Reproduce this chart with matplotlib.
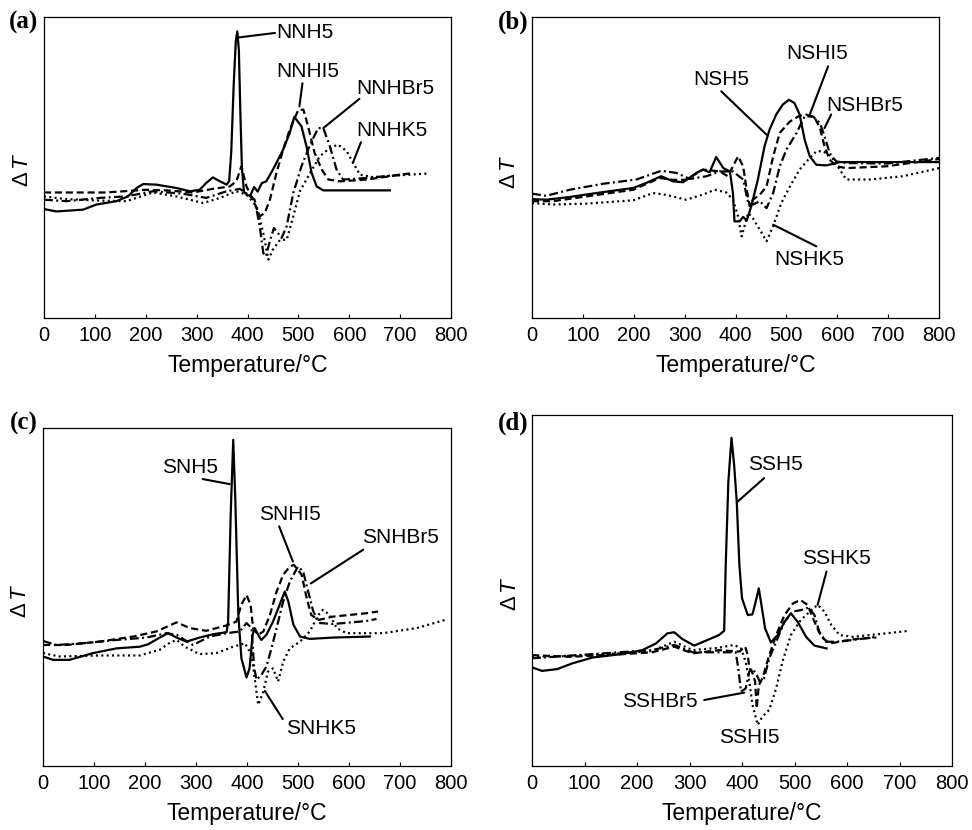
import matplotlib
matplotlib.use('Agg')
import matplotlib.pyplot as plt

plt.rcParams['font.family'] = ['Liberation Sans', 'DejaVu Sans']
plt.rcParams['mathtext.fontset'] = 'custom'
plt.rcParams['mathtext.rm'] = 'Liberation Sans'
plt.rcParams['mathtext.it'] = 'Liberation Sans:italic'

# ---------------- data (temperature in degC, DeltaT in arbitrary units 0-100) ----------------
xticks = [0, 100, 200, 300, 400, 500, 600, 700, 800]

# Panel (a)
nnh5_x = [0, 24, 77, 103, 142, 165, 182, 195, 221, 260, 287, 306, 319, 332, 346, 359, 364, 368, 373, 377, 380, 383, 386, 389, 393,
          398, 405, 413, 420, 428, 437, 450, 470, 483, 492, 506, 516, 526, 536, 549, 600, 680]
nnh5_y = [36.2, 35.4, 36.0, 37.7, 38.8, 40.4, 43.2, 44.5, 44.3, 43.2, 42.1, 42.6, 44.9, 46.7, 45.4, 44.3, 45.5, 55, 78, 92, 95.2, 89, 68, 50, 42,
          41.0, 40.5, 43.5, 42.0, 44.8, 45.4, 49.3, 55.9, 61.5, 66.8, 63.7, 57.0, 48.2, 43.7, 42.4, 42.4, 42.4]
nnhi5_x = [0, 120, 201, 241, 293, 332, 365, 378, 388, 398, 411, 424, 434, 444, 457, 470, 483, 500, 510, 519, 532, 546, 559, 582, 634, 726]
nnhi5_y = [41.7, 41.7, 42.6, 42.4, 41.7, 42.9, 43.7, 45.4, 50.4, 43.7, 39.3, 33.8, 34.9, 39.3, 48.2, 55.9, 62.6, 69.2, 69.2, 63.7, 54.8, 49.3, 46.0, 45.4, 46.0, 48.2]
nnhbr5_x = [0, 44, 110, 162, 214, 273, 319, 359, 385, 401, 414, 424, 431, 436, 443, 452, 460, 467, 477, 490, 506, 523, 539, 549, 562, 575, 588, 634, 700]
nnhbr5_y = [39.3, 38.8, 39.9, 40.4, 42.1, 41.3, 39.9, 42.1, 42.9, 41.0, 39.3, 30.5, 21.6, 20.5, 24.9, 29.9, 28.2, 26.6, 30.5, 41.5, 50.4, 57.6, 63.1, 63.1, 57.0, 49.3, 46.0, 46.5, 47.6]
nnhk5_x = [0, 44, 110, 162, 214, 260, 313, 346, 378, 398, 418, 431, 441, 450, 464, 477, 490, 503, 523, 542, 562, 578, 595, 608, 621, 647, 700, 754]
nnhk5_y = [40.4, 39.5, 39.0, 38.8, 41.7, 40.4, 38.2, 39.9, 42.1, 41.0, 37.1, 28.2, 19.4, 22.7, 26.0, 26.0, 33.8, 42.1, 48.2, 53.7, 56.5, 57.6, 55.4, 51.5, 47.6, 46.8, 47.4, 48.0]

# Panel (b)
nsh5_x = [0, 28, 74, 126, 199, 225, 254, 277, 297, 323, 336, 349, 362, 376, 389, 395, 398, 408, 415, 422, 431, 444, 457, 467, 480, 493, 505,
          516, 526, 536, 546, 559, 579, 605, 697, 800]
nsh5_y = [39.5, 39.3, 40.2, 41.5, 43.2, 44.9, 47.1, 45.4, 45.1, 48.2, 49.3, 48.4, 53.5, 49.8, 48.7, 41.5, 32.1, 32.1, 33.6, 32.4, 37.1, 46.0,
          57.0, 62.6, 67.6, 70.9, 72.5, 71.4, 67.6, 59.2, 53.7, 50.9, 50.7, 51.8, 51.8, 51.8]
nshi5_x = [0, 41, 107, 199, 251, 277, 303, 336, 369, 385, 395, 405, 415, 421, 428, 434, 448, 461, 474, 487, 507, 526, 539, 556, 566, 575,
           585, 598, 618, 697, 800]
nshi5_y = [38.8, 38.8, 40.4, 42.6, 46.5, 45.9, 45.9, 49.3, 48.7, 47.1, 50.4, 53.7, 50.4, 43.7, 37.1, 39.3, 41.0, 43.7, 53.7, 61.5, 65.3, 67.2,
           67.6, 66.4, 63.1, 57.0, 52.6, 50.4, 49.8, 50.4, 52.8]
nshbr5_x = [0, 28, 74, 140, 205, 254, 284, 310, 343, 369, 395, 415, 425, 434, 448, 461, 474, 487, 500, 520, 536, 552, 566, 575, 585, 598,
            618, 697, 800]
nshbr5_y = [41.3, 40.6, 42.6, 44.6, 46.0, 48.9, 48.2, 46.2, 47.1, 48.7, 48.7, 46.0, 38.2, 37.7, 38.8, 36.5, 41.5, 50.4, 55.9, 61.5, 67.0,
            67.0, 64.8, 60.4, 54.8, 52.0, 51.5, 51.3, 53.2]
nshk5_x = [0, 41, 107, 199, 238, 264, 303, 336, 359, 382, 395, 405, 412, 425, 434, 448, 461, 474, 490, 507, 526, 543, 559, 572, 588, 605,
           618, 664, 729, 800]
nshk5_y = [38.2, 37.7, 38.0, 39.1, 41.5, 40.9, 39.3, 41.0, 42.6, 41.7, 39.3, 33.8, 27.1, 34.9, 33.2, 29.3, 25.5, 30.5, 38.2, 43.7, 49.3,
           52.6, 55.4, 55.4, 53.7, 49.3, 46.0, 46.0, 47.1, 49.8]

# Panel (c)
snh5_x = [0, 20, 52, 98, 144, 190, 206, 229, 245, 262, 281, 307, 334, 360, 363, 368, 373, 377, 383, 389, 399, 405, 411, 415, 422, 428,
          438, 451, 464, 474, 481, 491, 504, 523, 569, 641]
snh5_y = [32.4, 31.4, 31.4, 33.4, 34.8, 35.3, 36.0, 38.0, 39.3, 38.0, 36.8, 38.0, 39.0, 39.6, 42.7, 74.3, 96.5, 79.3, 44.7, 31.9, 26.2, 28.9,
          38.8, 40.8, 38.8, 37.3, 38.8, 42.7, 47.7, 51.6, 48.7, 41.8, 38.3, 37.6, 38.0, 38.3]
snhi5_x = [0, 46, 111, 177, 222, 262, 288, 320, 360, 379, 389, 399, 407, 412, 422, 432, 445, 458, 471, 484, 492, 507, 517, 526, 540, 569,
           634, 657]
snhi5_y = [35.8, 35.8, 36.8, 38.3, 39.8, 42.5, 40.8, 40.0, 41.6, 42.7, 47.7, 50.6, 47.7, 40.8, 38.8, 39.8, 44.7, 51.6, 56.6, 59.0, 59.5, 56.6,
           49.7, 44.7, 43.2, 44.2, 45.2, 45.7]
snhbr5_x = [0, 26, 78, 144, 203, 242, 262, 294, 327, 360, 386, 399, 409, 414, 419, 428, 438, 448, 458, 471, 484, 500, 510, 520, 530, 543,
            569, 634, 654]
snhbr5_y = [37.0, 35.8, 36.3, 37.3, 38.0, 39.3, 38.8, 35.8, 38.3, 39.3, 39.8, 42.3, 40.8, 28.9, 25.5, 26.9, 29.4, 34.8, 40.8, 48.7, 54.6,
            59.0, 57.6, 51.6, 45.7, 42.3, 42.0, 42.9, 43.5]
snhk5_x = [0, 33, 111, 190, 229, 249, 262, 278, 307, 340, 373, 396, 409, 415, 422, 432, 441, 451, 461, 471, 484, 504, 523, 540, 549, 562,
           576, 595, 667, 733, 788]
snhk5_y = [33.4, 32.4, 32.7, 32.7, 34.4, 36.5, 37.3, 35.3, 33.1, 33.4, 35.3, 36.3, 32.9, 26.0, 18.1, 22.0, 27.9, 28.9, 25.0, 30.9, 34.8,
           36.8, 39.8, 44.7, 46.2, 44.7, 40.8, 39.3, 39.3, 40.8, 43.2]

# Panel (d)
ssh5_x = [0, 19, 48, 76, 115, 166, 210, 236, 258, 271, 286, 309, 331, 356, 366, 369, 374, 380, 385, 390, 395, 400, 411, 420, 426, 432,
          437, 444, 455, 468, 481, 493, 506, 522, 538, 561]
ssh5_y = [28.1, 27.1, 27.6, 29.2, 30.9, 31.8, 33.0, 34.9, 37.8, 38.1, 36.2, 34.3, 35.7, 37.3, 38.5, 57.3, 81.0, 93.5, 85.8, 75.3, 57.3,
          47.8, 43.0, 43.2, 46.8, 50.6, 45.9, 39.2, 35.2, 37.3, 41.1, 43.5, 41.1, 36.8, 34.3, 33.5]
sshi5_x = [0, 70, 166, 229, 271, 306, 356, 395, 406, 411, 414, 419, 425, 428, 432, 439, 452, 465, 481, 497, 511, 525, 538, 551, 567, 586,
           617, 656]
sshi5_y = [31.6, 31.1, 31.8, 32.4, 34.0, 32.1, 33.0, 32.6, 34.0, 31.6, 27.8, 26.9, 24.0, 16.4, 23.0, 25.0, 31.6, 37.3, 43.0, 46.3, 47.3,
           45.9, 41.1, 36.8, 34.9, 35.4, 36.2, 36.6]
sshbr5_x = [0, 70, 166, 229, 271, 306, 356, 388, 393, 398, 407, 414, 420, 428, 434, 442, 452, 465, 481, 497, 512, 527, 538, 547, 560, 579,
            611, 656]
sshbr5_y = [30.7, 31.4, 32.4, 33.0, 34.5, 32.4, 32.4, 32.4, 27.8, 21.2, 22.1, 26.9, 27.8, 25.9, 24.0, 25.0, 30.7, 35.4, 41.1, 44.0, 44.4,
            45.1, 43.0, 38.3, 35.4, 35.4, 35.9, 36.8]
sshk5_x = [0, 70, 166, 229, 271, 306, 356, 385, 398, 407, 414, 420, 430, 439, 452, 465, 477, 493, 512, 532, 544, 557, 570, 586, 611, 675, 718]
sshk5_y = [31.1, 31.4, 32.1, 32.8, 35.4, 33.0, 33.7, 34.5, 33.5, 29.7, 24.0, 17.4, 11.7, 14.1, 16.0, 22.1, 29.7, 37.3, 41.6, 44.4, 45.9,
           44.0, 40.2, 37.3, 36.8, 37.8, 38.5]

# ---------------- layout helpers ----------------
W, H = 972, 830
fig = plt.figure(figsize=(W / 100, H / 100), dpi=100)


def box(l, t, r, b):
    return [l / W, 1 - b / H, (r - l) / W, (b - t) / H]


def fx(px):
    return px / W


def fy(py):
    return 1 - py / H


S_SOLID = '-'
S_DASH = (0, (3.2, 1.7))
S_DASHDOT = (0, (4.0, 1.5, 0.9, 1.5))
S_DOT = (0, (0.9, 1.5))
LW = 1.6


def make_panel(rect, series, labels, letter, letter_xy, ylab_xy):
    ax = fig.add_axes(rect)
    for x, y, ls in series:
        ax.plot(x, y, color='black', lw=LW, linestyle=ls, dash_capstyle='butt', solid_joinstyle='round')
    ax.set_xlim(0, 800)
    ax.set_ylim(0, 100)
    ax.set_xticks(xticks)
    ax.set_xticklabels([str(v) for v in xticks])
    ax.set_yticks([])
    ax.tick_params(axis='x', direction='in', length=3, width=0.8, labelsize=14.5, pad=6, top=False)
    for s in ax.spines.values():
        s.set_linewidth(0.9)
    ax.set_xlabel('Temperature/°C', fontsize=16.5, labelpad=6)
    for txt, tx, ty, line in labels:
        ax.text(tx, ty, txt, fontsize=15, ha='left', va='center')
        if line is not None:
            (x0, y0), (x1, y1) = line
            ax.annotate('', xy=(x1, y1), xytext=(x0, y0),
                        arrowprops=dict(arrowstyle='-', lw=1.5, color='black', shrinkA=0, shrinkB=0))
    fig.text(fx(letter_xy[0]), fy(letter_xy[1]), letter, fontsize=18, fontweight='bold',
             family='Liberation Serif', ha='center', va='center')
    fig.text(fx(ylab_xy[0]), fy(ylab_xy[1]), r'$\Delta\,\mathit{T}$', fontsize=16, rotation=90,
             ha='center', va='center')
    return ax


make_panel(box(44, 17, 451, 318),
           [(nnh5_x, nnh5_y, S_SOLID), (nnhi5_x, nnhi5_y, S_DASH),
            (nnhbr5_x, nnhbr5_y, S_DASHDOT), (nnhk5_x, nnhk5_y, S_DOT)],
           [('NNH5', 457, 94.7, ((454, 94.7), (382, 93.2))),
            ('NNHI5', 457, 82.0, ((508, 78.0), (502, 70.3))),
            ('NNHBr5', 614, 76.4, ((620, 72.8), (549, 63.1))),
            ('NNHK5', 614, 62.2, ((623, 58.4), (607, 51.5)))],
           '(a)', (24, 22), (22, 170))

make_panel(box(532, 17, 939, 318),
           [(nsh5_x, nsh5_y, S_SOLID), (nshi5_x, nshi5_y, S_DASH),
            (nshbr5_x, nshbr5_y, S_DASHDOT), (nshk5_x, nshk5_y, S_DOT)],
           [('NSH5', 316, 79.2, ((372, 75.3), (461, 60.9))),
            ('NSHI5', 500, 88.0, ((582, 83.6), (546, 67.6))),
            ('NSHBr5', 579, 70.5, ((588, 67.6), (575, 63.1))),
            ('NSHK5', 477, 19.4, ((559, 23.8), (474, 31.0)))],
           '(b)', (513, 22), (509, 172))

make_panel(box(43, 428, 451, 766),
           [(snh5_x, snh5_y, S_SOLID), (snhi5_x, snhi5_y, S_DASH),
            (snhbr5_x, snhbr5_y, S_DASHDOT), (snhk5_x, snhk5_y, S_DOT)],
           [('SNH5', 234, 88.4, ((313, 84.9), (366, 83.4))),
            ('SNHI5', 424, 74.5, ((463, 70.9), (490, 60.5))),
            ('SNHBr5', 625, 67.6, ((628, 64.0), (525, 54.0))),
            ('SNHK5', 477, 11.2, ((470, 13.9), (435, 22.2)))],
           '(c)', (24, 423), (21, 601))

make_panel(box(532, 415, 952, 766),
           [(ssh5_x, ssh5_y, S_SOLID), (sshi5_x, sshi5_y, S_DASH),
            (sshbr5_x, sshbr5_y, S_DASHDOT), (sshk5_x, sshk5_y, S_DOT)],
           [('SSH5', 411, 86.0, ((442, 82.0), (390, 75.1))),
            ('SSHK5', 514, 59.0, ((561, 55.4), (544, 45.9))),
            ('SSHBr5', 172, 18.5, ((328, 18.8), (404, 20.9))),
            ('SSHI5', 356, 8.1, None)],
           '(d)', (513, 423), (510, 594))

fig.savefig('out.png', dpi=100)
